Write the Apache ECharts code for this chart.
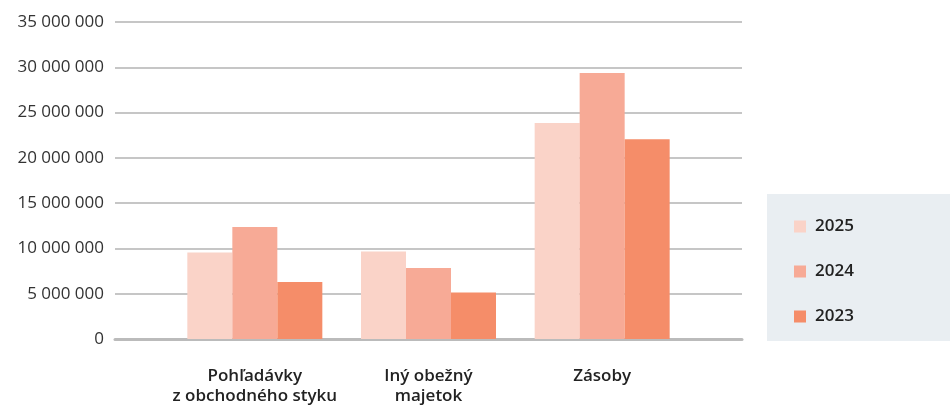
<!DOCTYPE html>
<html>
<head>
<meta charset="utf-8">
<script src="https://cdn.jsdelivr.net/npm/echarts@6/dist/echarts.min.js"></script>
<style>
  html, body { margin: 0; padding: 0; background: #fff; }
  #chart { width: 950px; height: 407px; }
</style>
</head>
<body>
<div id="chart"></div>
<script>
const categories = ['Pohľadávky\nz obchodného styku', 'Iný obežný\nmajetok', 'Zásoby']
const years = ['2025', '2024', '2023']
const values2025 = [9550000, 9660000, 23850000]
const values2024 = [12370000, 7840000, 29370000]
const values2023 = [6290000, 5130000, 22050000]
const colors = ['#FAD3C8', '#F7AA96', '#F58D69']

const fontFamily = '"Open Sans", "Noto Sans", sans-serif'
const yMax = 35000000
const yStep = 5000000

const formatNumber = v => String(v).replace(/\B(?=(\d{3})+(?!\d))/g, ' ')

const chart = echarts.init(document.getElementById('chart'))

const makeSeries = (name, data, color) => ({
  name: name,
  type: 'bar',
  xAxisIndex: 1,
  yAxisIndex: 1,
  data: data,
  barWidth: 45,
  barGap: '0%',
  itemStyle: { color: color },
  z: 3
})

const option = {
  animation: false,
  textStyle: { fontFamily: fontFamily },
  graphic: [{
    type: 'rect',
    left: 767,
    top: 194,
    shape: { width: 183, height: 147 },
    style: { fill: '#E9EEF2' },
    z: -1
  }],
  legend: {
    orient: 'vertical',
    left: 789,
    top: 213,
    itemWidth: 12,
    itemHeight: 12,
    itemGap: 28,
    icon: 'rect',
    data: years,
    textStyle: {
      fontFamily: fontFamily,
      fontSize: 17,
      fontWeight: 600,
      color: '#222',
      lineHeight: 16,
      padding: [0, 0, 0, 4]
    }
  },
  grid: [
    { left: 115, right: 208, top: 22, bottom: 68 },
    { left: 168, right: 261, top: 22, bottom: 68 }
  ],
  xAxis: [{
    type: 'category',
    gridIndex: 0,
    data: [''],
    axisLine: { show: true, lineStyle: { color: '#BBBBBB', width: 3 } },
    axisTick: { show: false },
    axisLabel: { show: false }
  }, {
    type: 'category',
    gridIndex: 1,
    data: categories,
    axisLine: { show: false },
    axisTick: { show: false },
    axisLabel: {
      interval: 0,
      margin: 27,
      fontFamily: fontFamily,
      fontSize: 17,
      fontWeight: 600,
      lineHeight: 20,
      color: '#222'
    }
  }],
  yAxis: [{
    type: 'value',
    gridIndex: 0,
    min: 0,
    max: yMax,
    interval: yStep,
    axisLine: { show: false },
    axisTick: { show: false },
    axisLabel: {
      margin: 11,
      fontFamily: fontFamily,
      fontSize: 17,
      color: '#333',
      formatter: formatNumber
    },
    splitLine: { lineStyle: { color: '#C6C6C6', width: 2 } }
  }, {
    type: 'value',
    gridIndex: 1,
    min: 0,
    max: yMax,
    interval: yStep,
    show: false,
    splitLine: { show: false }
  }],
  series: [
    makeSeries(years[0], values2025, colors[0]),
    makeSeries(years[1], values2024, colors[1]),
    makeSeries(years[2], values2023, colors[2])
  ]
}

chart.setOption(option)
</script>
</body>
</html>
